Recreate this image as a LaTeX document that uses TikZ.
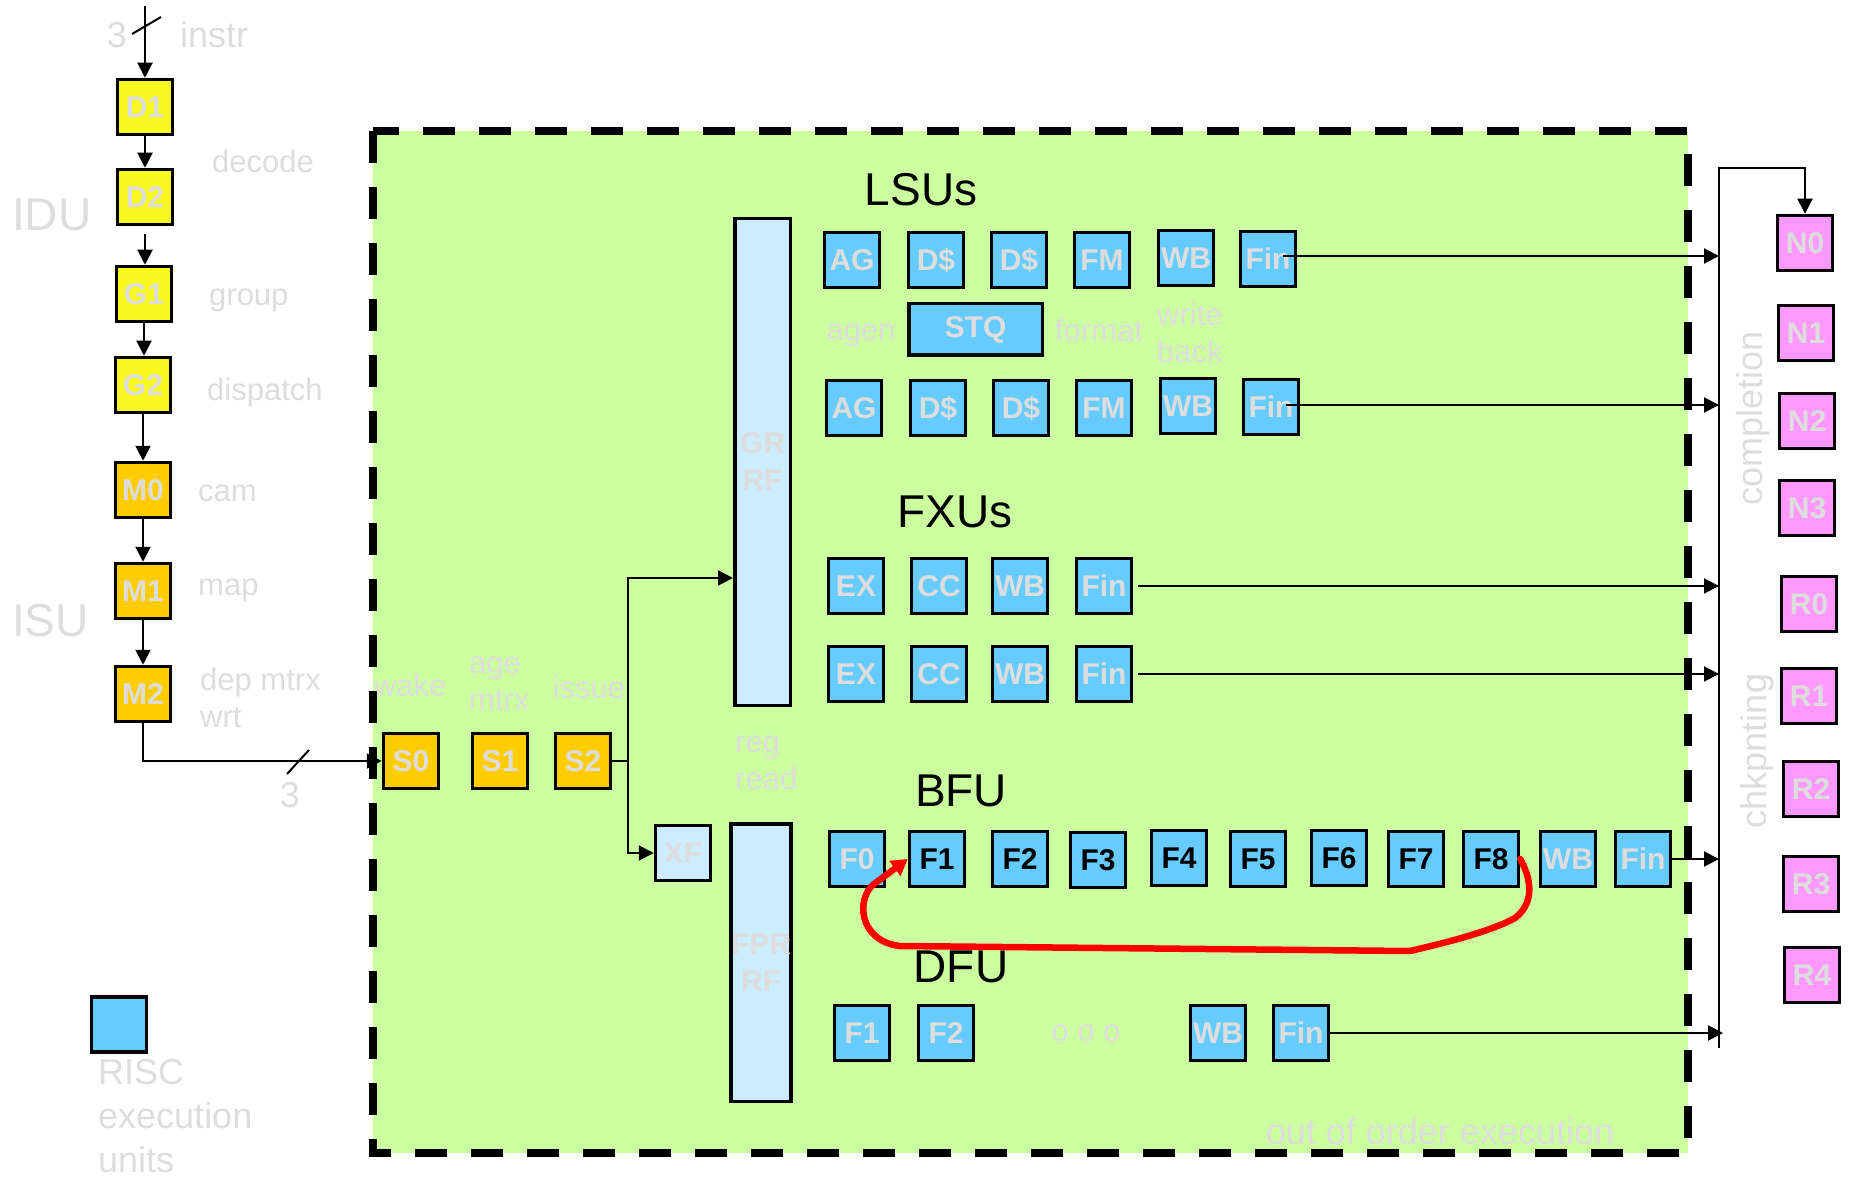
\documentclass[tikz,border=0pt]{standalone}
\usepackage{fontspec}
\setmainfont{Liberation Sans}
\usetikzlibrary{arrows.meta,calc}
\definecolor{gtxt}{RGB}{221,221,221}
\definecolor{cyel}{RGB}{248,248,32}
\definecolor{corg}{RGB}{255,204,0}
\definecolor{cblue}{RGB}{102,204,255}
\definecolor{clblue}{RGB}{204,236,255}
\definecolor{cgreen}{RGB}{204,255,160}
\definecolor{cpink}{RGB}{255,153,255}
\begin{document}
\begin{tikzpicture}[x=1pt,y=-1pt,
  box/.style={draw=black, line width=3.5pt, minimum width=55pt, minimum height=55pt, inner sep=0pt, font=\fontsize{30}{37}\selectfont\bfseries, text=gtxt, align=center},
  ybox/.style={box, fill=cyel},
  obox/.style={box, fill=corg},
  bbox/.style={box, fill=cblue},
  kbox/.style={box, fill=cblue, text=black},
  pbox/.style={box, fill=cpink},
  lbox/.style={box, fill=clblue},
  lbl/.style={font=\fontsize{31}{37}\selectfont, text=gtxt, inner sep=0pt, align=left},
  biglbl/.style={font=\fontsize{36}{46}\selectfont, text=gtxt, inner sep=0pt, align=left},
  unitlbl/.style={font=\fontsize{46}{46}\selectfont, text=black, inner sep=0pt},
  conn/.style={line width=2pt, -{Triangle[width=15pt,length=15pt]}},
  wire/.style={line width=2pt}
]
\path[use as bounding box] (0,0) rectangle (1864,1182);

% out-of-order region
\draw[line width=8pt, dash pattern=on 32pt off 24pt, fill=cgreen] (373,131) rectangle (1688,1153);

% left column
\node[ybox] (d1) at (145,107) {D1};
\node[ybox] (d2) at (145,197) {D2};
\node[ybox] (g1) at (144,294) {G1};
\node[ybox] (g2) at (143,385) {G2};
\node[obox] (m0) at (143,490) {M0};
\node[obox] (m1) at (143,591) {M1};
\node[obox] (m2) at (143,694) {M2};

\coordinate (instrin) at (145,6);
\draw[conn] (instrin) -- (d1.north);
\draw[wire] (132,34) -- (161,17);
\draw[conn] (d1.south) -- (d1.south |- d2.north);
\draw[conn] ([yshift=-8pt]d2.south) -- (d2.south |- g1.north);
\draw[conn] (g1.south) -- (g1.south |- g2.north);
\draw[conn] (g2.south) -- (g2.south |- m0.north);
\draw[conn] (m0.south) -- (m0.south |- m1.north);
\draw[conn] (m1.south) -- (m1.south |- m2.north);

\node[biglbl] (n3a) at (117,35) {3};
\node[biglbl, anchor=west] (linstr) at (180,35) {instr};
\node[lbl, anchor=west] (ldecode) at (212,161) {decode};
\node[lbl, anchor=west] (lgroup) at (209,300) {group};
\node[lbl, anchor=west] (ldispatch) at (207,392) {dispatch};
\node[lbl, anchor=west] (lcam) at (198,493) {cam};
\node[lbl, anchor=west] (lmap) at (198,590) {map};
\node[lbl, anchor=west] (ldep) at (200,698) {dep mtrx\\wrt};
\node[font=\fontsize{46}{46}\selectfont, text=gtxt, inner sep=0pt, anchor=west] (lidu) at (12,215) {IDU};
\node[font=\fontsize{46}{46}\selectfont, text=gtxt, inner sep=0pt, anchor=west] (lisu) at (12,621) {ISU};

% issue stages
\node[obox] (s0) at (411,761) {S0};
\node[obox] (s1) at (500,761) {S1};
\node[obox] (s2) at (583,761) {S2};
\draw[conn] (m2.south) |- (s0.west);
\draw[wire] (287,774) -- (309,750);
\node[biglbl] (n3b) at (290,795) {3};
\node[lbl] (lwake) at (410,685) {wake};
\node[lbl, anchor=west] (lage) at (469,684) {age\\mtrx};
\node[lbl] (lissue) at (589,687) {issue};

% register files
\node[lbox, minimum width=55.5pt, minimum height=486.5pt] (grrf) at (762.5,462) {GR\\RF};
\node[lbox, minimum width=54.5pt, minimum height=277.5pt] (fprrf) at (761,962.5) {FPR\\RF};
\node[lbox] (xf) at (683,853) {XF};
\node[lbl, anchor=west] (lreg) at (735,763) {reg\\read};

\draw[wire] (s2.east) -- (628,761) coordinate (sp);
\draw[conn] (sp) |- ([yshift=-116pt]grrf.west);
\draw[conn] (sp) |- (xf.west);

% completion bus
\coordinate (busTop) at (1719,168);
\coordinate (busBot) at (1719,1048);

% LSUs
\node[unitlbl] (tlsu) at (921,190) {LSUs};
\node[bbox] (la1) at (852,260) {AG};
\node[bbox] (lb1) at (936,260) {D\$};
\node[bbox] (lc1) at (1019,260) {D\$};
\node[bbox] (ld1) at (1102,260) {FM};
\node[bbox] (le1) at (1186,258) {WB};
\node[bbox] (lf1) at (1268,259) {Fin};
\node[bbox] (la2) at (854,408) {AG};
\node[bbox] (lb2) at (938,408) {D\$};
\node[bbox] (lc2) at (1021,408) {D\$};
\node[bbox] (ld2) at (1104,408) {FM};
\node[bbox] (le2) at (1188,406) {WB};
\node[bbox] (lf2) at (1271,407) {Fin};
\node[bbox, minimum width=133.5pt, minimum height=51.5pt] (stq) at (975.5,329.5) {STQ};
\node[lbl] (lagen) at (861,335) {agen};
\node[lbl] (lformat) at (1099,330) {format};
\node[lbl, anchor=west] (lwrite) at (1157,333) {write\\back};
\draw[conn] ([xshift=-14pt,yshift=3pt]lf1.east) -- ([yshift=3pt]lf1 -| busTop);
\draw[conn] ([xshift=-14pt,yshift=2pt]lf2.east) -- ([yshift=2pt]lf2 -| busTop);

% FXUs
\node[unitlbl] (tfxu) at (955,512) {FXUs};
\node[bbox] (fa1) at (856,586) {EX};
\node[bbox] (fb1) at (939,586) {CC};
\node[bbox] (fc1) at (1020,586) {WB};
\node[bbox] (fd1) at (1104,586) {Fin};
\node[bbox] (fa2) at (856,674) {EX};
\node[bbox] (fb2) at (939,674) {CC};
\node[bbox] (fc2) at (1020,674) {WB};
\node[bbox] (fd2) at (1104,674) {Fin};
\draw[conn] ([xshift=5pt]fd1.east) -- (fd1 -| busTop);
\draw[conn] ([xshift=5pt]fd2.east) -- (fd2 -| busTop);

% BFU
\node[unitlbl] (tbfu) at (961,791) {BFU};
\node[bbox] (bf0) at (857,859) {F0};
\node[kbox] (bf1) at (937,859) {F1};
\node[kbox] (bf2) at (1020,859) {F2};
\node[kbox] (bf3) at (1098,860) {F3};
\node[kbox] (bf4) at (1179,858) {F4};
\node[kbox] (bf5) at (1258,859) {F5};
\node[kbox] (bf6) at (1339,858) {F6};
\node[kbox] (bf7) at (1416,859) {F7};
\node[kbox] (bf8) at (1491,859) {F8};
\node[bbox] (bwb) at (1568,859) {WB};
\node[bbox] (bfin) at (1643,859) {Fin};
\draw[conn] (bfin.east) -- (bfin -| busTop);

% DFU
\node[unitlbl] (tdfu) at (961,967) {DFU};
\node[bbox] (df1) at (862,1033) {F1};
\node[bbox] (df2) at (946,1033) {F2};
\node[lbl] (dots) at (1086,1033) {o o o};
\node[bbox] (dwb) at (1218,1033) {WB};
\node[bbox] (dfin) at (1301,1033) {Fin};
\draw[conn] (dfin.east) -- ([xshift=4pt]dfin -| busTop);

% red loop F8 -> F1
\draw[red, line width=6.5pt, line cap=round, line join=round, -{Triangle[width=18pt,length=16pt]}]
  (bf8.east) .. controls (1534,884) and (1532,905) .. (1515,918)
  .. controls (1490,932) and (1440,944) .. (1410,951)
  -- (900,946) .. controls (858,941) and (856,898) .. (874,884) -- (bf1.west);

\node[biglbl] (lout) at (1440,1132) {out of order execution};

% bus and completion / checkpointing
\node[pbox] (n0) at (1805,243) {N0};
\node[pbox] (n1) at (1806,333) {N1};
\node[pbox] (n2) at (1807,421) {N2};
\node[pbox] (n3) at (1807,508) {N3};
\node[pbox] (r0) at (1809,604) {R0};
\node[pbox] (r1) at (1809,696) {R1};
\node[pbox] (r2) at (1811,789) {R2};
\node[pbox] (r3) at (1811,884) {R3};
\node[pbox] (r4) at (1812,975) {R4};
\draw[conn] (busBot) -- (busTop) -| (n0.north);
\node[biglbl, rotate=90] (lcompl) at (1753,418) {completion};
\node[biglbl, rotate=90] (lchk) at (1757,751) {chkpnting};

% legend
\node[bbox] (leg) at (119,1024.5) {};
\node[font=\fontsize{36}{44}\selectfont, text=gtxt, inner sep=0pt, align=left, anchor=north west] (lrisc) at (98,1059) {RISC\\execution\\units};
\end{tikzpicture}
\end{document}
